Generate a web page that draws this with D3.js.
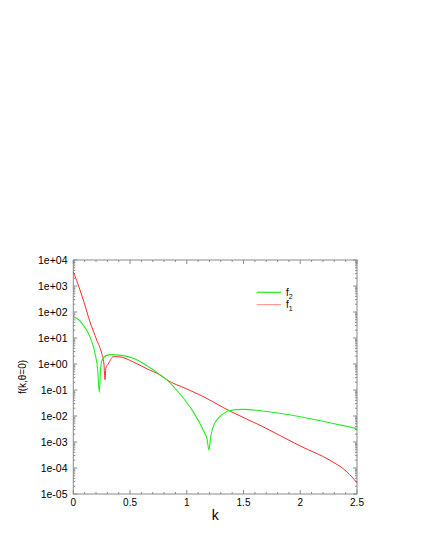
<!DOCTYPE html>
<html>
<head>
<meta charset="utf-8">
<script src="https://cdn.jsdelivr.net/npm/d3@7"></script>
<style>
  body { margin: 0; background: #fff; }
  svg { display: block; }
  text { font-family: "Liberation Sans", Arial, sans-serif; fill: #000; }
</style>
</head>
<body>
<svg width="431" height="557"></svg>
<script>
// f2 (green)
kGreen = [0, 0.03, 0.088, 0.147, 0.191, 0.215, 0.229, 0.24, 0.25, 0.29, 0.338, 0.4, 0.528, 0.65, 0.76, 0.822, 0.91, 1.0, 1.056, 1.144, 1.18, 1.195, 1.21, 1.233, 1.28, 1.35, 1.364, 1.5, 1.67, 2.0, 2.26, 2.5];
fGreen = [63, 57, 31, 11, 2.6, 0.6, 0.08, 0.6, 1.3, 2.1, 2.3, 2.2, 1.66, 0.85, 0.4, 0.25, 0.1, 0.033, 0.0147, 0.0029, 0.0012, 0.00049, 0.0015, 0.0039, 0.0085, 0.0147, 0.016, 0.018, 0.0156, 0.0094, 0.0055, 0.0033];

// f1 (red)
kRed = [0, 0.03, 0.088, 0.147, 0.206, 0.25, 0.27, 0.279, 0.287, 0.308, 0.352, 0.4, 0.528, 0.65, 0.763, 0.822, 1.0, 1.115, 1.38, 1.67, 2.0, 2.26, 2.41, 2.5];
fRed = [3500, 1600, 290, 42, 8.4, 2.6, 1.0, 0.25, 0.7, 1.0, 1.9, 1.9, 1.2, 0.65, 0.38, 0.25, 0.11, 0.065, 0.0155, 0.0039, 0.0007, 0.0002, 0.000072, 0.000027];

xTicks = [0, 0.5, 1, 1.5, 2, 2.5];
yTicks = [1e-5, 1e-4, 1e-3, 1e-2, 1e-1, 1, 1e1, 1e2, 1e3, 1e4];
legendNames = ["2", "1"];   // subscripts of f

const pLeft = 73.3, pRight = 357, pTop = 260, pBottom = 494;

const x = d3.scaleLinear().domain([0, 2.5]).range([pLeft, pRight]);
const y = d3.scaleLog().domain([1e-5, 1e4]).range([pBottom, pTop]);

const svg = d3.select("svg");

// y tick label like 1e+04 / 1e-05
const fmtExp = v => {
  const e = Math.round(Math.log10(v));
  return "1e" + (e < 0 ? "-" : "+") + String(Math.abs(e)).padStart(2, "0");
};

const frame = svg.append("g").attr("stroke", "#8a8a8a").attr("stroke-width", 1).attr("fill", "none");
frame.append("rect")
    .attr("x", pLeft).attr("y", pTop)
    .attr("width", pRight - pLeft).attr("height", pBottom - pTop);

// x ticks, every 0.1, major at 0.5, on bottom and top, pointing in
const xMinor = d3.range(0, 26).map(i => i / 10);
xMinor.forEach(v => {
  const major = Math.abs(v * 2 - Math.round(v * 2)) < 1e-6;
  const len = major ? 4 : 2;
  frame.append("line").attr("x1", x(v)).attr("x2", x(v)).attr("y1", pBottom).attr("y2", pBottom - len);
  frame.append("line").attr("x1", x(v)).attr("x2", x(v)).attr("y1", pTop).attr("y2", pTop + len);
});

// y ticks: decades and 2..9 minors, on both sides
yTicks.forEach((d, i) => {
  frame.append("line").attr("x1", pLeft).attr("x2", pLeft + 4).attr("y1", y(d)).attr("y2", y(d));
  frame.append("line").attr("x1", pRight).attr("x2", pRight - 4).attr("y1", y(d)).attr("y2", y(d));
  if (i < yTicks.length - 1) {
    d3.range(2, 10).forEach(m => {
      const v = d * m;
      frame.append("line").attr("x1", pLeft).attr("x2", pLeft + 2).attr("y1", y(v)).attr("y2", y(v));
      frame.append("line").attr("x1", pRight).attr("x2", pRight - 2).attr("y1", y(v)).attr("y2", y(v));
    });
  }
});

svg.append("g").selectAll("text")
  .data(xTicks)
  .join("text")
    .attr("x", d => x(d))
    .attr("y", 506)
    .attr("text-anchor", "middle")
    .style("font-size", "10px")
    .text(d => d3.format("")(d));

svg.append("g").selectAll("text")
  .data(yTicks)
  .join("text")
    .attr("x", 67.5)
    .attr("y", d => y(d))
    .attr("dy", "0.36em")
    .attr("text-anchor", "end")
    .style("font-size", "10.5px")
    .text(fmtExp);

svg.append("text")
    .attr("x", (pLeft + pRight) / 2)
    .attr("y", 520)
    .attr("text-anchor", "middle")
    .style("font-size", "14px")
    .text("k");

svg.append("text")
    .attr("transform", `translate(22,${(pTop + pBottom) / 2}) rotate(-90)`)
    .attr("dy", "0.35em")
    .attr("text-anchor", "middle")
    .style("font-size", "10px")
    .text("f(k,θ=0)");

const line = d3.line()
    .x(d => x(d[0]))
    .y(d => y(d[1]))
    .curve(d3.curveMonotoneX);

svg.append("path")
    .datum(d3.zip(kRed, fRed))
    .attr("fill", "none")
    .attr("stroke", "#ff2a2a")
    .attr("stroke-width", 1)
    .attr("d", line);

svg.append("path")
    .datum(d3.zip(kGreen, fGreen))
    .attr("fill", "none")
    .attr("stroke", "#22ee22")
    .attr("stroke-width", 1.1)
    .attr("d", line);

// legend
const legendColors = ["#22ee22", "#ff9a9a"];
const lg = svg.append("g");
legendNames.forEach((n, i) => {
  const ly = 292.3 + i * 12.3;
  lg.append("line")
      .attr("x1", 256.7).attr("x2", 281)
      .attr("y1", ly).attr("y2", ly)
      .attr("stroke", legendColors[i]).attr("stroke-width", 1.2);
  const t = lg.append("text")
      .attr("x", 286).attr("y", ly + 3.5)
      .style("font-size", "10px");
  t.append("tspan").text("f");
  t.append("tspan").attr("dy", 3).style("font-size", "7px").text(n);
});
</script>
</body>
</html>
